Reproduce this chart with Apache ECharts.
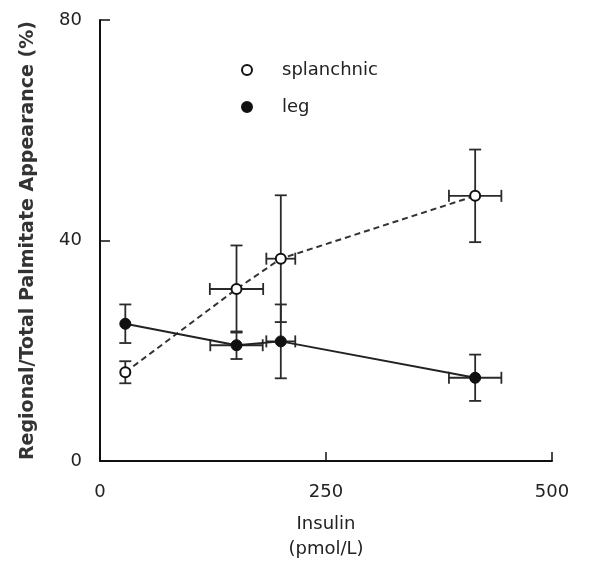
<!DOCTYPE html>
<html>
<head>
<meta charset="utf-8">
<script src="https://cdn.jsdelivr.net/npm/echarts@6/dist/echarts.min.js"></script>
<style>
html,body{margin:0;padding:0;background:#fff;}
#chart{width:596px;height:567px;}
</style>
</head>
<body>
<div id="chart"></div>
<script>
// ---- data ----
const xTicks = [0, 250, 500];
const yTicks = [0, 40, 80];

const splanchnicX    = [28, 151, 200, 415];
const splanchnicY    = [16.1, 31.2, 36.7, 48.1];
const splanchnicXErr = [0, 29.5, 16, 29];
const splanchnicYErr = [2.0, 7.9, 11.5, 8.4];

const legX    = [28, 151, 200, 415];
const legY    = [24.9, 21.0, 21.7, 15.1];
const legXErr = [0, 29, 16, 29];
const legYErr = [3.5, 2.5, 6.7, 4.2];

const seriesNames = ['splanchnic', 'leg'];
const xTitle = 'Insulin\n(pmol/L)';
const yTitle = 'Regional/Total Palmitate Appearance (%)';

// ---- build ----
function pts(xs, ys) { return xs.map((x, i) => [x, ys[i]]); }
function errPts(xs, ys, xe, ye) { return xs.map((x, i) => [x, ys[i], xe[i], ye[i]]); }

const FONT = 'DejaVu Sans';
const TXT = '#222';

function renderErr(params, api) {
  const x = api.value(0), y = api.value(1), xe = api.value(2), ye = api.value(3);
  const cap = 6;
  const st = { stroke: '#2a2a2a', lineWidth: 1.8, fill: null };
  const ch = [];
  if (ye > 0) {
    const t = api.coord([x, y + ye]), b = api.coord([x, y - ye]);
    ch.push({ type: 'line', shape: { x1: t[0], y1: t[1], x2: b[0], y2: b[1] }, style: st });
    ch.push({ type: 'line', shape: { x1: t[0] - cap, y1: t[1], x2: t[0] + cap, y2: t[1] }, style: st });
    ch.push({ type: 'line', shape: { x1: b[0] - cap, y1: b[1], x2: b[0] + cap, y2: b[1] }, style: st });
  }
  if (xe > 0) {
    const l = api.coord([x - xe, y]), r = api.coord([x + xe, y]);
    ch.push({ type: 'line', shape: { x1: l[0], y1: l[1], x2: r[0], y2: r[1] }, style: st });
    ch.push({ type: 'line', shape: { x1: l[0], y1: l[1] - cap, x2: l[0], y2: l[1] + cap }, style: st });
    ch.push({ type: 'line', shape: { x1: r[0], y1: r[1] - cap, x2: r[0], y2: r[1] + cap }, style: st });
  }
  return { type: 'group', children: ch };
}

const chart = echarts.init(document.getElementById('chart'), null, { renderer: 'canvas' });
chart.setOption({
  animation: false,
  backgroundColor: '#fff',
  grid: { left: 100, right: 44, top: 20, bottom: 104 },
  legend: {
    data: seriesNames,
    orient: 'vertical',
    left: 236,
    top: 56,
    itemWidth: 60,
    itemHeight: 10,
    itemGap: 19,
    icon: 'circle',
    selectedMode: false,
    textStyle: { fontFamily: FONT, fontSize: 18, color: TXT }
  },
  xAxis: {
    type: 'value',
    min: xTicks[0], max: xTicks[xTicks.length - 1], interval: xTicks[1] - xTicks[0],
    name: xTitle,
    nameLocation: 'middle',
    nameGap: 51,
    nameTextStyle: { fontFamily: FONT, fontSize: 18, color: TXT, lineHeight: 25 },
    axisLine: { lineStyle: { color: '#111', width: 2 } },
    axisTick: { inside: true, length: 9, lineStyle: { color: '#111', width: 1.5 } },
    axisLabel: { margin: 22, fontFamily: FONT, fontSize: 18, color: TXT },
    splitLine: { show: false }
  },
  yAxis: {
    type: 'value',
    min: yTicks[0], max: yTicks[yTicks.length - 1], interval: yTicks[1] - yTicks[0],
    name: yTitle,
    nameLocation: 'middle',
    nameGap: 62,
    nameTextStyle: { fontFamily: FONT, fontSize: 19, fontWeight: 'bold', color: '#333' },
    axisLine: { lineStyle: { color: '#111', width: 2 } },
    axisTick: { inside: true, length: 10, lineStyle: { color: '#111', width: 1.5 } },
    axisLabel: { margin: 18, fontFamily: FONT, fontSize: 18, color: TXT },
    splitLine: { show: false }
  },
  series: [
    {
      type: 'custom', name: 'splanchnic-err', z: 1, silent: true,
      renderItem: renderErr,
      encode: { x: 0, y: 1 },
      data: errPts(splanchnicX, splanchnicY, splanchnicXErr, splanchnicYErr)
    },
    {
      type: 'custom', name: 'leg-err', z: 1, silent: true,
      renderItem: renderErr,
      encode: { x: 0, y: 1 },
      data: errPts(legX, legY, legXErr, legYErr)
    },
    {
      type: 'line', name: seriesNames[0], z: 3,
      data: pts(splanchnicX, splanchnicY),
      symbol: 'circle', symbolSize: 10, showAllSymbol: true,
      itemStyle: { color: '#fff', borderColor: '#111', borderWidth: 2 },
      lineStyle: { color: '#333', width: 2, type: [6, 4] }
    },
    {
      type: 'line', name: seriesNames[1], z: 3,
      data: pts(legX, legY),
      symbol: 'circle', symbolSize: 11, showAllSymbol: true,
      itemStyle: { color: '#111', borderColor: '#111', borderWidth: 1 },
      lineStyle: { color: '#222', width: 2 }
    }
  ]
});
</script>
</body>
</html>
